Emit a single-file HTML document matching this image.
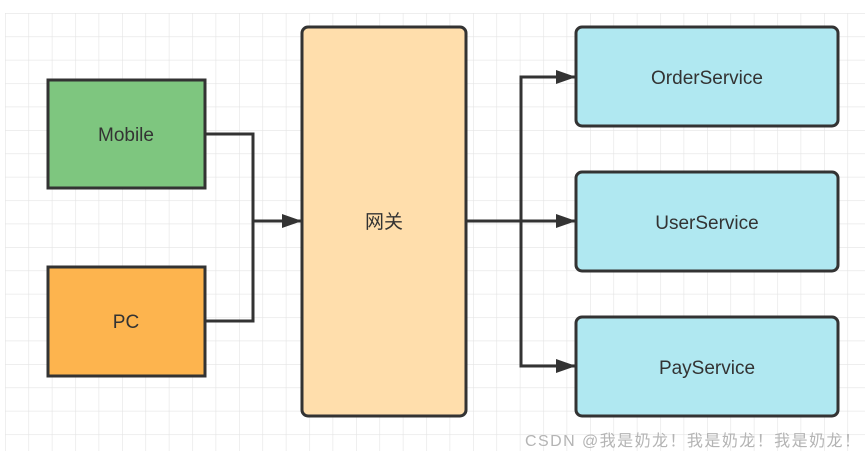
<!DOCTYPE html>
<html><head><meta charset="utf-8"><style>
html,body{margin:0;padding:0;background:#fff;width:865px;height:456px;overflow:hidden}
svg{display:block}
text{font-family:"Liberation Sans","Noto Sans CJK SC",sans-serif;fill:#333}
</style></head><body>
<svg width="865" height="456" viewBox="0 0 865 456" xmlns="http://www.w3.org/2000/svg">
<defs>
<pattern id="g" x="5" y="13" width="23.4" height="23.4" patternUnits="userSpaceOnUse">
<path d="M0 0H23.4M0 0V23.4" stroke="#e4e4e4" stroke-width="1.2" fill="none"/>
</pattern>
<marker id="a" markerWidth="20" markerHeight="16" refX="19" refY="8" orient="auto" markerUnits="userSpaceOnUse">
<path d="M0 1L20 8L0 15Z" fill="#333"/>
</marker>
</defs>
<rect x="5" y="13" width="860" height="438" fill="url(#g)"/>
<g stroke="#333" stroke-width="3" fill="none">
<path d="M205 134H253V321H205"/>
<path d="M253 221H301" marker-end="url(#a)"/>
<path d="M466 221H575" marker-end="url(#a)"/>
<path d="M521 221V77H575" marker-end="url(#a)"/>
<path d="M521 221V366H575" marker-end="url(#a)"/>
</g>
<g stroke="#333" stroke-width="3">
<rect x="48" y="80" width="157" height="108" fill="#7ec67f"/>
<rect x="48" y="267" width="157" height="109" fill="#fdb44e"/>
<rect x="302" y="27" width="164" height="389" rx="6" fill="#ffdeac"/>
<rect x="576" y="27" width="262" height="99" rx="6" fill="#b0e8f1"/>
<rect x="576" y="172" width="262" height="99" rx="6" fill="#b0e8f1"/>
<rect x="576" y="317" width="262" height="99" rx="6" fill="#b0e8f1"/>
</g>
<g font-size="19" text-anchor="middle">
<text x="126" y="141">Mobile</text>
<text x="126" y="328">PC</text>
<text x="384" y="228">网关</text>
<text x="707" y="84">OrderService</text>
<text x="707" y="229">UserService</text>
<text x="707" y="374">PayService</text>
</g>
<text x="525" y="446" font-size="16" textLength="335" lengthAdjust="spacing" style="fill:#b4b4b4">CSDN @我是奶龙！我是奶龙！我是奶龙！</text>
</svg>
</body></html>
